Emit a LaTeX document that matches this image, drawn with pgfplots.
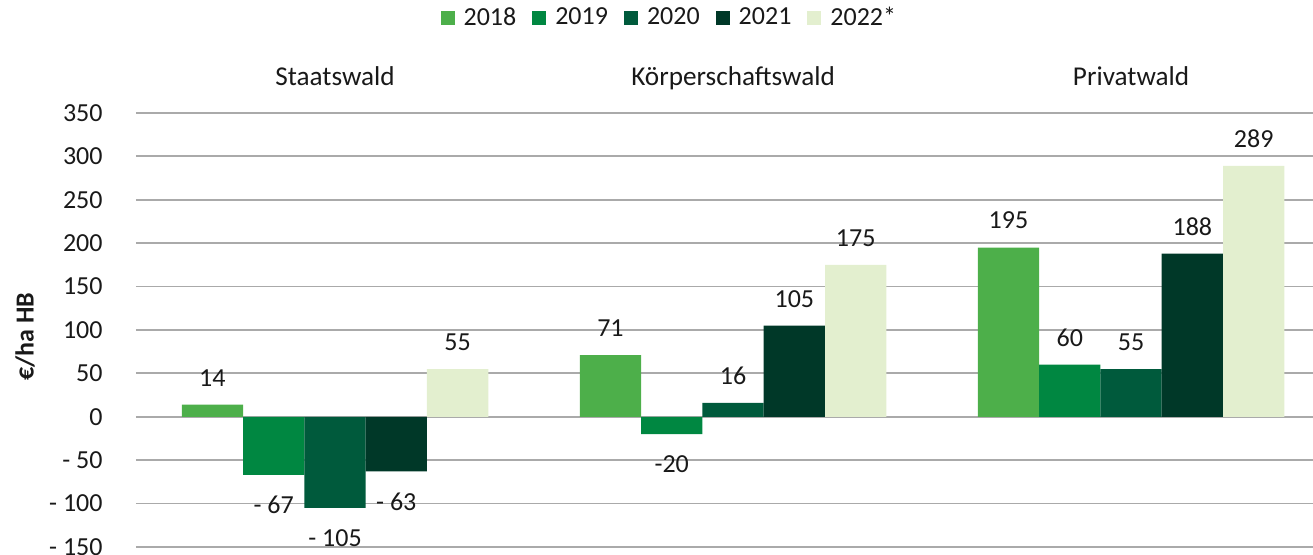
\documentclass[border=0pt]{standalone}
\usepackage{pgfplots}
\pgfplotsset{compat=1.18}
\usepackage{fontspec}
\setmainfont{Carlito}
\definecolor{cA}{RGB}{77,175,74}
\definecolor{cB}{RGB}{0,135,65}
\definecolor{cC}{RGB}{0,90,60}
\definecolor{cD}{RGB}{0,56,40}
\definecolor{cE}{RGB}{227,239,207}
\definecolor{gridc}{RGB}{170,170,170}
\definecolor{txt}{RGB}{25,25,25}
\pgfplotsset{sqlegend/.style={legend image code/.code={\fill[##1] (0pt,-3.5pt) rectangle (7pt,3.5pt); \path (9.5pt,0pt);}}}
\begin{document}
\begin{tikzpicture}[font=\fontsize{13}{15.5}\selectfont, text=txt]
\begin{axis}[
  name=ax,
  scale only axis, width=588.5pt, height=217pt,
  xmin=-0.5, xmax=2.457, ymin=-150, ymax=350,
  xtick={0,1,2}, xticklabels={Staatswald,Körperschaftswald,Privatwald},
  xticklabel pos=upper,
  xticklabel style={anchor=base, yshift=13.5pt, font=\fontsize{13.6}{16}\selectfont},
  ytick={-150,-100,...,350},
  yticklabels={- 150,- 100,- 50,0,50,100,150,200,250,300,350},
  yticklabel style={anchor=east, inner sep=0pt, xshift=-16.5pt},
  major tick length=0pt,
  axis line style={draw=none},
  ymajorgrids, grid style={gridc, line width=0.9pt},
  ylabel={\textbf{€/ha HB}},
  every axis y label/.style={at={(axis description cs:-0.0943,0.484)}, rotate=90, anchor=center},
  nodes near coords, point meta=explicit symbolic,
  visualization depends on={rawy \as \rawy},
  legend style={at={(0.454,1.219)}, anchor=center, draw=none, fill=none, legend columns=-1,
    /tikz/every even column/.append style={column sep=6pt}},
]
\pgfplotsset{every node near coord/.append code={%
  \ifdim\rawy pt<0pt \pgfkeysalso{/tikz/anchor=north,/tikz/yshift=-1.5pt}%
  \else \pgfkeysalso{/tikz/anchor=south}\fi},
  every node near coord/.append style={inner xsep=0pt, inner ysep=9pt, text=txt}}
\addplot[ybar, bar width=0.154, bar shift=0, fill=cA, draw=none, sqlegend]
  coordinates {(-0.308,14) [14] (0.692,71) [71] (1.692,195) [195]};
\addlegendentry{2018}
\addplot[ybar, bar width=0.154, bar shift=0, fill=cB, draw=none, sqlegend]
  coordinates {(-0.154,-67) [{- 67}] (0.846,-20) [-20] (1.846,60) [60]};
\addlegendentry{2019}
\addplot[ybar, bar width=0.154, bar shift=0, fill=cC, draw=none, sqlegend]
  coordinates {(0,-105) [{- 105}] (1,16) [16] (2,55) [55]};
\addlegendentry{2020}
\addplot[ybar, bar width=0.154, bar shift=0, fill=cD, draw=none, sqlegend]
  coordinates {(0.154,-63) [{- 63}] (1.154,105) [105] (2.154,188) [188]};
\addlegendentry{2021}
\addplot[ybar, bar width=0.154, bar shift=0, fill=cE, draw=none, sqlegend]
  coordinates {(0.308,55) [55] (1.308,175) [175] (2.308,289) [289]};
\addlegendentry{2022*}
\end{axis}
\pgfresetboundingbox
\path[use as bounding box] ([xshift=-68pt,yshift=-4pt]ax.south west) rectangle ([yshift=56.5pt]ax.north east);
\end{tikzpicture}
\end{document}
